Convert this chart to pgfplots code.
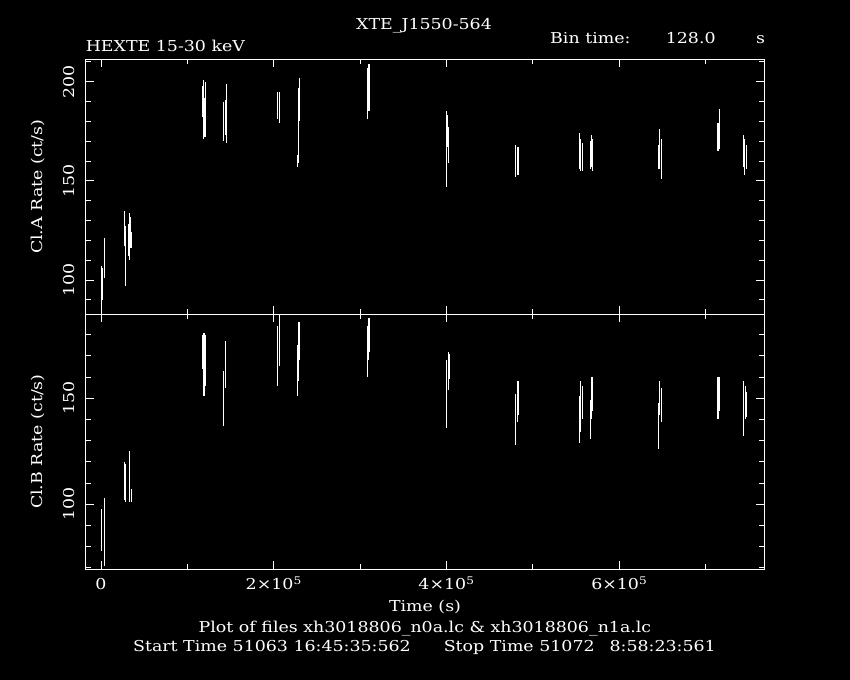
\documentclass[border=0pt]{standalone}
\usepackage{fontspec}
\setmainfont{DejaVu Serif}[FakeStretch=1.16]
\usepackage{pgfplots}
\pgfplotsset{compat=1.18}
\usepackage{pgfplotstable}

\pgfplotstableread{
x y e
300 95 12
1500 98 8
3800 111 10
26800 126 9
27500 124 6
28800 112 15
31500 120 8
32800 122 12
34000 124 8
35100 120 4
117800 190 8
118800 186 15
120300 182 10
121300 186 14
142300 180 10
143800 182 9
144800 184 15
204300 188 7
206300 187 8
227300 160 3
228300 178 19
229300 191 11
230300 191 3
308300 194 13
309300 197 12
310300 199 10
310800 195 10
400300 166 19
401300 175 8
402800 168 9
480300 160 8
481800 161 6
482800 160 7
553800 165 9
555300 163 8
557300 162 7
566300 163 7
567800 165 8
569300 163 8
645300 162 6
646800 166 10
648800 161 10
714300 172 7
715800 176 10
744300 165 8
745300 162 9
746800 162 6
}\dataA

\pgfplotstableread{
x y e
300 88 10
3800 87 16
26800 111 9
28800 110 9
32800 113 12
35300 104 3
117800 172 8
119300 166 15
120800 168 12
142300 150 13
144300 166 11
204300 170 14
206300 178 13
227300 163 12
228300 172 14
229800 177 9
308300 172 12
309300 178 10
310800 180 8
400300 152 16
401800 163 9
403300 165 6
480300 140 12
481800 148 9
482800 150 8
553800 140 11
555300 146 12
557300 148 8
566300 140 9
567800 150 10
569300 152 8
645300 137 11
646800 150 8
648800 147 8
714300 150 10
715800 152 8
744300 145 13
745800 148 8
746800 147 6
}\dataB

\pgfplotsset{
  lc/.style={
    scale only axis, width=678.6bp, anchor=south west,
    xmin=-17700, xmax=767900,
    axis line style={white, line width=0.9bp},
    every tick/.style={white, line width=0.9bp},
    major tick length=8bp, minor tick length=5bp,
    xtick pos=both, ytick pos=both,
    xtick={0,200000,400000,600000},
    minor xtick={100000,300000,500000,700000},
    scaled x ticks=false, scaled y ticks=false,
    /pgf/number format/assume math mode=true,
    every tick label/.append style={text=white},
    yticklabel style={rotate=90, anchor=south, inner ysep=11bp},
    ylabel style={text=white, anchor=center},
    xlabel style={text=white},
  },
  lcplot/.style={draw=none, no markers,
    error bars/.cd, y dir=both, y explicit,
    error bar style={draw=white, line width=1.1bp}, error mark=none},
}

\begin{document}
\fontsize{15bp}{18bp}\selectfont
\begin{tikzpicture}
\fill[black] (0bp,0bp) rectangle (850bp,680bp);

\begin{axis}[lc, at={(85.7bp,365.7bp)}, height=255bp,
  ymin=82.7, ymax=211.3,
  ytick={100,150,200}, minor ytick={90,100,...,210},
  xticklabels={},
  ylabel={Cl.A Rate (ct/s)},
  ylabel style={at={(axis description cs:-0.0703,0.5)}}]
\addplot[lcplot] table[x=x, y=y, y error=e] {\dataA};
\end{axis}

\begin{axis}[lc, at={(85.7bp,111bp)}, height=254.7bp,
  ymin=69.5, ymax=189.6,
  ytick={100,150}, minor ytick={70,80,...,180},
  xticklabels={0, 2×10\textsuperscript{5}, 4×10\textsuperscript{5}, 6×10\textsuperscript{5}},
  xticklabel style={anchor=base, yshift=-20.3bp},
  ylabel={Cl.B Rate (ct/s)},
  ylabel style={at={(axis description cs:-0.0703,0.5)}},
  xlabel={Time (s)},
  xlabel style={at={(axis description cs:0.5,0)}, anchor=base, yshift=-42.7bp}]
\addplot[lcplot] table[x=x, y=y, y error=e] {\dataB};
\end{axis}

\node[white, anchor=base] at (424bp,650bp) {XTE\_J1550-564};
\node[white, anchor=base west, inner sep=0pt] at (85.6bp,628bp) {HEXTE 15-30 keV};
\node[white, anchor=base west, inner sep=0pt] at (550bp,636bp) {Bin time:};
\node[white, anchor=base west, inner sep=0pt] at (665.6bp,636bp) {128.0};
\node[white, anchor=base west, inner sep=0pt] at (756bp,636bp) {s};
\node[white, anchor=base] at (425bp,47.3bp) {Plot of files xh3018806\_n0a.lc \& xh3018806\_n1a.lc};
\node[white, anchor=base] at (424.5bp,29bp) {Start Time 51063 16:45:35:562\hspace{2.2em}Stop Time 51072\hspace{1em}8:58:23:561};

\pgfresetboundingbox
\useasboundingbox (0bp,0bp) rectangle (850bp,680bp);
\end{tikzpicture}
\end{document}
